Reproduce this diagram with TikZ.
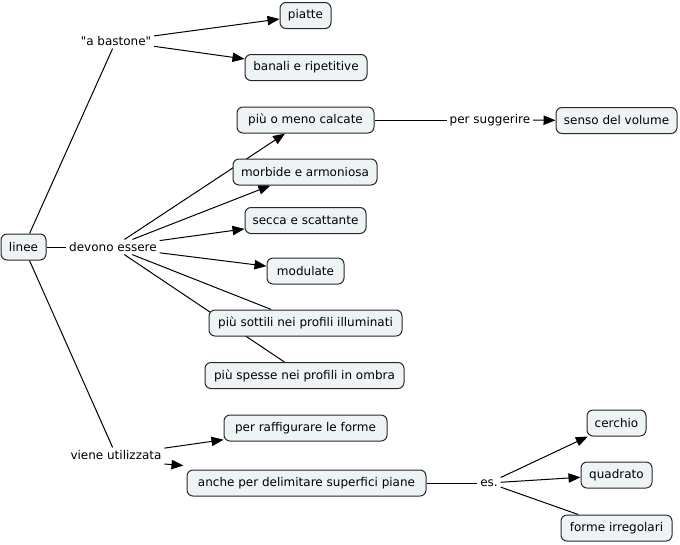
\documentclass[tikz,border=0pt]{standalone}
\usepackage{fontspec}
\setmainfont{DejaVu Sans}[Ligatures=TeXOff]
\usetikzlibrary{arrows.meta}
\pgfdeclarelayer{bg}
\pgfsetlayers{bg,main}
\definecolor{cfill}{RGB}{238,243,245}
\definecolor{cline}{RGB}{40,40,40}
\begin{document}
\begin{tikzpicture}[x=0.75pt,y=-0.75pt,
  every node/.style={font=\fontsize{9pt}{11pt}\selectfont},
  concept/.style={draw=cline, fill=cfill, line width=0.75pt, rounded corners=4.5pt, minimum height=19.5pt, inner sep=2pt},
  linkph/.style={inner sep=2pt, fill=none},
  conn/.style={draw=black, line width=0.75pt},
  arr/.style={conn, -{Triangle[length=9pt,width=7pt]}}
]
\useasboundingbox (0,0) rectangle (680,544);
% concepts
\node[concept, minimum width=33.75pt] (linee) at (23.5,247) {linee};
\node[concept, minimum width=38.25pt] (piatte) at (305.5,15.5) {piatte};
\node[concept, minimum width=91.5pt] (banali) at (306,67.5) {banali e ripetitive};
\node[concept, minimum width=102.75pt] (calcate) at (305.5,120) {più o meno calcate};
\node[concept, minimum width=90.75pt] (senso) at (616.5,120.5) {senso del volume};
\node[concept, minimum width=108pt] (morbide) at (305,172) {morbide e armoniosa};
\node[concept, minimum width=90.75pt] (secca) at (305.5,220.5) {secca e scattante};
\node[concept, minimum width=57.75pt] (modulate) at (305.5,271) {modulate};
\node[concept, minimum width=144.75pt] (sottili) at (305.5,323) {più sottili nei profili illuminati};
\node[concept, minimum width=149.25pt] (spesse) at (304.5,375.5) {più spesse nei profili in ombra};
\node[concept, minimum width=122.25pt] (raffig) at (305.5,428) {per raffigurare le forme};
\node[concept, minimum width=179.25pt] (anche) at (306.5,483) {anche per delimitare superfici piane};
\node[concept, minimum width=44.25pt] (cerchio) at (616.5,423) {cerchio};
\node[concept, minimum width=53.25pt] (quadrato) at (616.5,475) {quadrato};
\node[concept, minimum width=83.25pt] (irreg) at (616.5,528) {forme irregolari};
% linking phrases
\node[linkph] (bast) at (116,41) {"a bastone"};
\node[linkph] (devono) at (113,247) {devono essere};
\node[linkph] (viene) at (116,455) {viene utilizzata};
\node[linkph] (suggerire) at (490,120) {per suggerire};
\node[linkph] (es) at (489,483) {es.};
% connectors
\begin{pgfonlayer}{bg}
\draw[conn] (linee) -- (bast);
\draw[arr] (bast) -- (piatte);
\draw[arr] (bast) -- (banali);
\draw[conn] (linee) -- (devono);
\draw[arr] (devono) -- (calcate);
\draw[arr] (devono) -- (morbide);
\draw[arr] (devono) -- (secca);
\draw[arr] (devono) -- (modulate);
\draw[conn] (devono) -- (sottili);
\draw[conn] (devono) -- (spesse);
\draw[conn] (calcate) -- (suggerire);
\draw[arr] (suggerire) -- (senso);
\draw[conn] (linee) -- (viene);
\draw[arr] (viene) -- (raffig);
\draw[arr] (viene.east) ++(0,9) -- ([shift={(-3,-4)}]anche.north west);
\draw[conn] (anche) -- (es);
\draw[arr] (es) -- (cerchio);
\draw[arr] (es) -- (quadrato);
\draw[conn] (es) -- (irreg);
\end{pgfonlayer}
\end{tikzpicture}
\end{document}
